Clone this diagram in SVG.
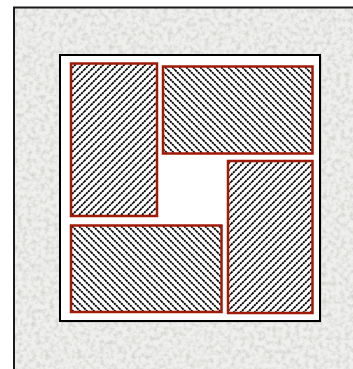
<svg xmlns="http://www.w3.org/2000/svg" width="353" height="369" viewBox="0 0 353 369">
  <defs>
    <filter id="noise" x="0" y="0" width="100%" height="100%">
      <feTurbulence type="fractalNoise" baseFrequency="0.22" numOctaves="3" seed="3" result="t"/>
      <feColorMatrix in="t" type="matrix" values="0 0 0 0 0  0 0 0 0 0  0 0 0 0 0  0 0 0 -1 0.6" result="a"/>
      <feFlood flood-color="#b4b4b0" result="f"/>
      <feComposite in="f" in2="a" operator="in"/>
    </filter>
    <pattern id="hatchR" patternUnits="userSpaceOnUse" width="7" height="7">
      <rect width="7" height="7" fill="#fff"/>
      <path d="M0,7 L7,0 M-3.5,3.5 L3.5,-3.5 M3.5,10.5 L10.5,3.5" stroke="#000" stroke-width="1.9" stroke-dasharray="2.2 0.7"/>
    </pattern>
    <pattern id="hatchL" patternUnits="userSpaceOnUse" width="7" height="7">
      <rect width="7" height="7" fill="#fff"/>
      <path d="M0,0 L7,7 M-3.5,3.5 L3.5,10.5 M3.5,-3.5 L10.5,3.5" stroke="#000" stroke-width="1.9" stroke-dasharray="2.2 0.7"/>
    </pattern>
  </defs>
  <style>
    .tile { stroke: #a01a08; stroke-width: 2.5; }
  </style>
  <rect width="353" height="369" fill="#ffffff"/>
  <rect x="14" y="7.5" width="345" height="370" fill="#efefed"/>
  <rect x="14" y="7.5" width="345" height="370" filter="url(#noise)"/>
  <path d="M14,369 L14,7.5 L353,7.5" fill="none" stroke="#1a1a1a" stroke-width="2"/>
  <g id="board">
    <rect x="61.5" y="56.5" width="260" height="266" fill="#9a9a9a" opacity="0.5"/>
    <rect x="60" y="55" width="260" height="266" fill="#ffffff" stroke="#000" stroke-width="2"/>
  </g>
  <g id="tile-a"><rect class="tile" x="71" y="63.5" width="86" height="152.5" fill="url(#hatchR)"/></g>
  <g id="tile-b"><rect class="tile" x="163" y="66.5" width="149.5" height="87" fill="url(#hatchL)"/></g>
  <g id="tile-c"><rect class="tile" x="228" y="161" width="84.5" height="152" fill="url(#hatchR)"/></g>
  <g id="tile-d"><rect class="tile" x="71" y="225.5" width="150.5" height="86.5" fill="url(#hatchL)"/></g>
</svg>
